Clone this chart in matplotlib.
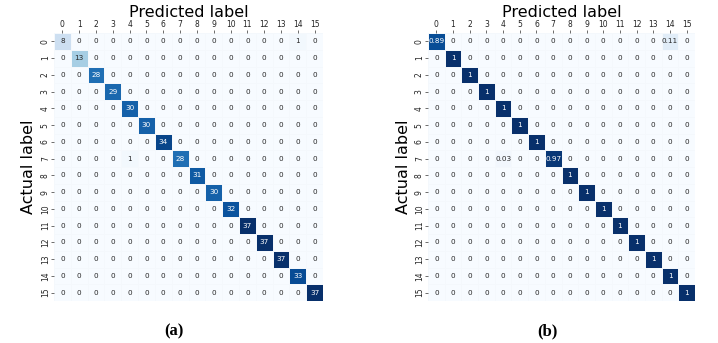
"""
Two confusion matrices (counts and row-normalised) side by side.
"""

import matplotlib
matplotlib.use("Agg")
import matplotlib.pyplot as plt
import numpy as np
import seaborn as sns

labels = [str(i) for i in range(16)]

# (a) raw counts: diagonal plus the two misclassifications
diag_counts = [8, 13, 28, 29, 30, 30, 34, 28, 31, 30, 32, 37, 37, 37, 33, 37]
off_counts = [(0, 14, 1), (7, 4, 1)]  # (actual, predicted, count)

# (b) normalised per actual class
diag_norm = [0.89, 1, 1, 1, 1, 1, 1, 0.97, 1, 1, 1, 1, 1, 1, 1, 1]
off_norm = [(0, 14, 0.11), (7, 4, 0.03)]


def build(diag, off):
    m = np.zeros((len(labels), len(labels)))
    for i, v in enumerate(diag):
        m[i, i] = v
    for r, c, v in off:
        m[r, c] = v
    return m


cm_a = build(diag_counts, off_counts)
cm_b = build(diag_norm, off_norm)

fig = plt.figure(figsize=(7.18, 3.43), dpi=100)
W, H = 718, 343
ax_a = fig.add_axes([54 / W, 1 - 301 / H, 269 / W, 268 / H])
ax_b = fig.add_axes([428 / W, 1 - 301 / H, 267 / W, 268 / H])


def draw(ax, cm, fmt, ylab_x):
    sns.heatmap(cm, ax=ax, cmap="Blues", annot=True, fmt=fmt, cbar=False,
                linewidths=0.5, linecolor="#f4f8fc", square=False,
                xticklabels=labels, yticklabels=labels,
                annot_kws={"size": 5.2})
    ax.xaxis.tick_top()
    ax.xaxis.set_label_position("top")
    ax.tick_params(axis="both", labelsize=5.5, length=2, width=0.5,
                   pad=1.0, colors="#333333")
    for t in ax.get_xticklabels():
        t.set_color("#222222")
    plt.setp(ax.get_yticklabels(), rotation=90, va="center", color="#222222")
    ax.set_xlabel("Predicted label", fontsize=11.5)
    ax.set_ylabel("Actual label", fontsize=11.5)
    ax.xaxis.set_label_coords(0.5, 1.058)
    ax.yaxis.set_label_coords(ylab_x, 0.5)


draw(ax_a, cm_a, "g", -0.068)
draw(ax_b, cm_b, ".2g", -0.065)

fig.text(174 / W, 1 - 331 / H, "(a)", ha="center", va="center",
         fontsize=12, fontweight="bold", family="Liberation Serif")
fig.text(547 / W, 1 - 331 / H, "(b)", ha="center", va="center",
         fontsize=12, fontweight="bold", family="Liberation Serif")

fig.savefig("out.png", dpi=100, facecolor="white")
plt.close()
